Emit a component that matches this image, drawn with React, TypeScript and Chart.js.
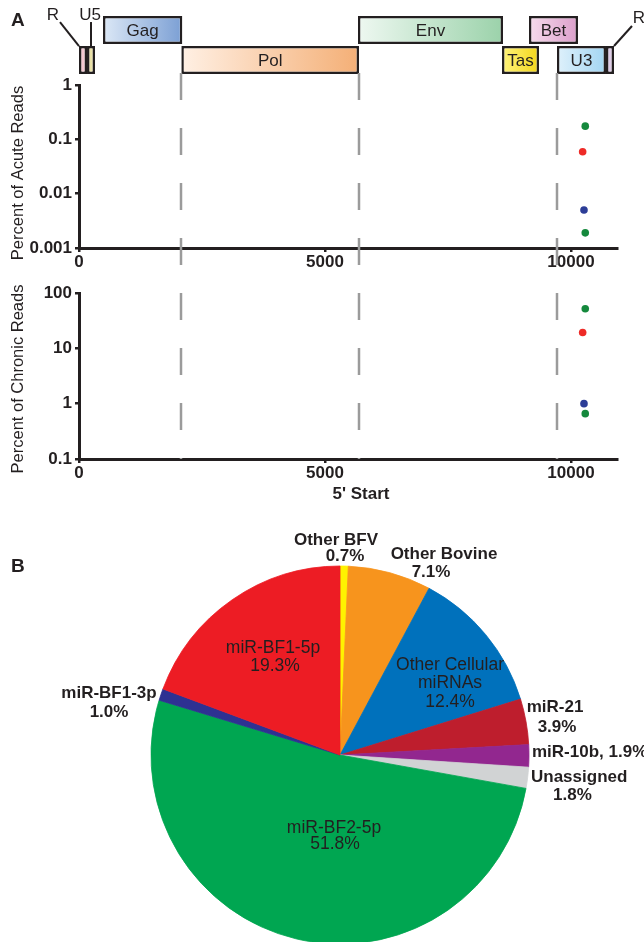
import React, { useEffect, useRef } from 'react';
import { Chart, registerables } from 'chart.js';

Chart.register(...registerables);

const FONT = '"Liberation Sans", Arial, Helvetica, sans-serif';
const INK = '#231f20';

// ---------- Panel A: genome map (positions in nt) ----------
const genomeNames = ['R', 'U5', 'Gag', 'Pol', 'Env', 'Tas', 'Bet', 'U3', 'R'];
const genomeStart = [0, 163, 488, 2080, 5670, 8598, 9146, 9715, 10711];
const genomeEnd = [163, 325, 2100, 5691, 8618, 9350, 10142, 10711, 10874];
const genomeRow = ['lower', 'lower', 'upper', 'lower', 'upper', 'lower', 'upper', 'lower', 'lower'];
const genomeRows = ['upper', 'lower'];
const genomeFillFrom = ['#f4c4cc', '#e4dc9c', '#dce8f6', '#fff0e4', '#eef8f1', '#fff37c', '#f6dcec', '#dff1fb', '#d4c4e6'];
const genomeFillTo = ['#f2ccd6', '#efe7b4', '#7b9fd4', '#f4af76', '#9bd2aa', '#f3d61a', '#dc9ecb', '#a2d5f2', '#e8d4ea'];

// Genome length shown on the x axis
const X_MIN = 0;
const X_MAX = 10935;
const xTicks = [0, 5000, 10000];

// ---------- Panel A: small RNA 5' start positions ----------
const seriesNames = ['miR-BF2-5p', 'miR-BF1-5p', 'miR-BF1-3p', 'miR-BF2-3p'];
const seriesStart = [10290, 10237, 10264, 10290];
const acutePercent = [0.175, 0.059, 0.005, 0.0019];
const chronicPercent = [51.8, 19.3, 1.0, 0.66];
const seriesColors = ['#15893d', '#ee2b27', '#2c3d97', '#15893d'];

const acuteTicks = [0.001, 0.01, 0.1, 1];
const chronicTicks = [0.1, 1, 10, 100];

// ---------- Panel B: pie ----------
const pieLabels = [
  'Other BFV',
  'Other Bovine',
  'Other Cellular miRNAs',
  'miR-21',
  'miR-10b',
  'Unassigned',
  'miR-BF2-5p',
  'miR-BF1-3p',
  'miR-BF1-5p',
];
const pieValues = [0.7, 7.1, 12.4, 3.9, 1.9, 1.8, 51.8, 1.0, 19.3];
const pieColors = ['#fff200', '#f7941d', '#0071bc', '#be1e2d', '#92278f', '#d1d3d4', '#00a651', '#2e3192', '#ed1c24'];

// label layout (offsets from pie centre)
const pieLabelLayout: any[] = [
  { pos: [[-4, -215], [5, -199]], bold: true },
  { pos: [[104, -201], [91, -183]], bold: true },
  { pos: [[110, -90], [110, -72], [110, -53]], bold: false, breakLabel: true },
  { pos: [[215, -48], [217, -28]], bold: true },
  { pos: [[192, -3]], bold: true, inline: true, align: 'left' },
  { pos: [[191, 22], [213, 40]], bold: true, align: 'left' },
  { pos: [[-6, 73], [-5, 89]], bold: false },
  { pos: [[-231, -62], [-231, -43]], bold: true },
  { pos: [[-67, -107], [-65, -89]], bold: false },
];

// ---------- layout ----------
const W = 644;
const PLOT_LEFT = 79;
const PLOT_RIGHT_PAD = 27;
const DASH_ORIGIN = 73;
const DASH = [27, 28];
const boundaries = [genomeStart[3], genomeEnd[3], genomeStart[7]];

function dashOffset(startY: number) {
  const p = DASH[0] + DASH[1];
  return (((startY - DASH_ORIGIN) % p) + p) % p;
}

function genomeConfig(): any {
  const genomePlugin = {
    id: 'genomeText',
    afterDatasetsDraw(chart: any) {
      const { ctx } = chart;
      const meta = chart.getDatasetMeta(0);
      const bars = meta.data;
      ctx.save();
      ctx.fillStyle = INK;
      ctx.font = `17px ${FONT}`;
      ctx.textAlign = 'center';
      ctx.textBaseline = 'middle';
      bars.forEach((bar: any, i: number) => {
        if (i < 2 || i === 8) return;
        ctx.fillText(genomeNames[i], (bar.x + bar.base) / 2, bar.y + 1);
      });
      // callouts
      ctx.strokeStyle = INK;
      ctx.lineWidth = 2;
      const callout = (text: string, ax: number, ay: number, tx: number, ty: number, lx: number, ly: number) => {
        ctx.beginPath();
        ctx.moveTo(ax + lx, ay + ly);
        ctx.lineTo(ax, ay);
        ctx.stroke();
        ctx.fillText(text, ax + tx, ay + ty);
      };
      const b0 = bars[0];
      const b1 = bars[1];
      const b8 = bars[8];
      callout(genomeNames[0], Math.min(b0.x, b0.base), b0.y - b0.height / 2, -26, -31, -19, -24);
      callout(genomeNames[1], (b1.x + b1.base) / 2, b1.y - b1.height / 2, -1, -31, 0, -24);
      callout(genomeNames[8], Math.max(b8.x, b8.base), b8.y - b8.height / 2, 25, -28, 18, -20);
      ctx.restore();
    },
  };
  return {
    type: 'bar',
    data: {
      labels: genomeRows,
      datasets: [
        {
          data: genomeNames.map((_, i) => ({ x: [genomeStart[i], genomeEnd[i]], y: genomeRow[i] })),
          backgroundColor: (c: any) => {
            const i = c.dataIndex;
            const xs = c.chart.scales && c.chart.scales.x;
            if (i === undefined || !xs) return genomeFillTo[0];
            const x0 = xs.getPixelForValue(genomeStart[i]);
            const x1 = xs.getPixelForValue(genomeEnd[i]);
            if (!isFinite(x0) || !isFinite(x1) || x0 === x1) return genomeFillTo[i];
            const g = c.chart.ctx.createLinearGradient(x0, 0, x1, 0);
            g.addColorStop(0, genomeFillFrom[i]);
            g.addColorStop(1, genomeFillTo[i]);
            return g;
          },
          borderColor: INK,
          borderWidth: 2.5,
          borderSkipped: false,
          barPercentage: 0.95,
          categoryPercentage: 0.98,
          grouped: false,
        },
      ],
    },
    options: {
      indexAxis: 'y',
      animation: false,
      responsive: false,
      events: [],
      layout: { padding: { left: PLOT_LEFT, right: PLOT_RIGHT_PAD, top: 15, bottom: 5 } },
      scales: {
        x: { type: 'linear', min: X_MIN, max: X_MAX, display: false },
        y: { type: 'category', display: false },
      },
      plugins: { legend: { display: false }, tooltip: { enabled: false } },
    },
    plugins: [genomePlugin],
  };
}

function scatterConfig(opts: {
  values: number[];
  min: number;
  max: number;
  ticks: number[];
  canvasTop: number;
  topPad: number;
  xAxisHeight: number;
  title: string;
  titleY: number;
  dashToChartBottom: boolean;
  xTitle?: string;
  xTitlePos?: [number, number];
}): any {
  const dashPlugin = {
    id: 'guides',
    beforeDatasetsDraw(chart: any) {
      const { ctx, scales, chartArea } = chart;
      const y0 = Math.max(0, DASH_ORIGIN - opts.canvasTop);
      ctx.save();
      ctx.strokeStyle = '#9b9b9b';
      ctx.lineWidth = 2.5;
      ctx.setLineDash(DASH);
      ctx.lineDashOffset = dashOffset(opts.canvasTop + y0);
      const yEnd = opts.dashToChartBottom ? chartArea.bottom : chart.height;
      boundaries.forEach((v) => {
        const px = Math.round(scales.x.getPixelForValue(v));
        ctx.beginPath();
        ctx.moveTo(px, y0);
        ctx.lineTo(px, yEnd);
        ctx.stroke();
      });
      ctx.restore();
    },
    afterDraw(chart: any) {
      const { ctx } = chart;
      ctx.save();
      ctx.fillStyle = INK;
      ctx.textAlign = 'center';
      ctx.textBaseline = 'middle';
      ctx.font = `16.5px ${FONT}`;
      ctx.translate(18.5, opts.titleY);
      ctx.rotate(-Math.PI / 2);
      ctx.fillText(opts.title, 0, 0);
      ctx.restore();
      if (opts.xTitle && opts.xTitlePos) {
        ctx.save();
        ctx.fillStyle = INK;
        ctx.textAlign = 'center';
        ctx.textBaseline = 'middle';
        ctx.font = `bold 17px ${FONT}`;
        ctx.fillText(opts.xTitle, opts.xTitlePos[0], opts.xTitlePos[1]);
        ctx.restore();
      }
    },
  };
  return {
    type: 'scatter',
    data: {
      datasets: seriesNames.map((name, i) => ({
        label: name,
        data: [{ x: seriesStart[i], y: opts.values[i] }],
        backgroundColor: seriesColors[i],
        borderWidth: 0,
        pointRadius: 3.8,
      })),
    },
    options: {
      animation: false,
      responsive: false,
      events: [],
      layout: { padding: { left: 0, right: PLOT_RIGHT_PAD, top: opts.topPad, bottom: 0 } },
      scales: {
        x: {
          type: 'linear',
          min: X_MIN,
          max: X_MAX,
          afterBuildTicks: (s: any) => {
            s.ticks = xTicks.map((v) => ({ value: v }));
          },
          afterFit: (s: any) => {
            s.height = opts.xAxisHeight;
            s.paddingLeft = 0;
            s.paddingRight = 0;
          },
          ticks: {
            font: { family: FONT, size: 17, weight: 'bold' },
            color: INK,
            padding: 0,
            maxRotation: 0,
            autoSkip: false,
            callback: (v: any) => String(v),
          },
          grid: { drawOnChartArea: false, drawTicks: true, tickLength: 4, lineWidth: 2.5, color: INK },
          border: { display: true, width: 3, color: INK },
        },
        y: {
          type: 'logarithmic',
          min: opts.min,
          max: opts.max,
          afterBuildTicks: (s: any) => {
            s.ticks = opts.ticks.map((v) => ({ value: v }));
          },
          afterFit: (s: any) => {
            s.width = PLOT_LEFT;
            s.paddingTop = 0;
            s.paddingBottom = 0;
          },
          ticks: {
            font: { family: FONT, size: 17, weight: 'bold' },
            color: INK,
            padding: 3,
            autoSkip: false,
            callback: (v: any) => String(v),
          },
          grid: { drawOnChartArea: false, drawTicks: true, tickLength: 4, lineWidth: 2.5, color: INK },
          border: { display: true, width: 3, color: INK },
        },
      },
      plugins: { legend: { display: false }, tooltip: { enabled: false } },
    },
    plugins: [dashPlugin],
  };
}

function pieConfig(): any {
  const labelPlugin = {
    id: 'pieText',
    afterDatasetsDraw(chart: any) {
      const { ctx } = chart;
      const arcs = chart.getDatasetMeta(0).data;
      if (!arcs.length) return;
      const cx = arcs[0].x;
      const cy = arcs[0].y;
      ctx.save();
      ctx.fillStyle = INK;
      ctx.textBaseline = 'middle';
      pieLabels.forEach((label, i) => {
        const lay = pieLabelLayout[i];
        const pct = `${pieValues[i].toFixed(1)}%`;
        let lines: string[];
        if (lay.inline) lines = [`${label}, ${pct}`];
        else if (lay.breakLabel) {
          const k = label.lastIndexOf(' ');
          lines = [label.slice(0, k), label.slice(k + 1), pct];
        } else lines = [label, pct];
        ctx.font = lay.bold ? `bold 17px ${FONT}` : `17.5px ${FONT}`;
        ctx.textAlign = lay.align || 'center';
        lines.forEach((t, j) => {
          ctx.fillText(t, cx + lay.pos[j][0], cy + lay.pos[j][1]);
        });
      });
      ctx.restore();
    },
  };
  return {
    type: 'pie',
    data: {
      labels: pieLabels,
      datasets: [
        {
          data: pieValues,
          backgroundColor: pieColors,
          borderColor: pieColors,
          borderWidth: 0.8,
          hoverOffset: 0,
        },
      ],
    },
    options: {
      animation: false,
      responsive: false,
      events: [],
      radius: 189,
      layout: { padding: { top: 70, bottom: 2, left: 151, right: 115 } },
      plugins: { legend: { display: false }, tooltip: { enabled: false } },
    },
    plugins: [labelPlugin],
  };
}

export default function App() {
  const gRef = useRef<HTMLCanvasElement>(null);
  const aRef = useRef<HTMLCanvasElement>(null);
  const cRef = useRef<HTMLCanvasElement>(null);
  const pRef = useRef<HTMLCanvasElement>(null);

  useEffect(() => {
    const charts = [
      new Chart(gRef.current as HTMLCanvasElement, genomeConfig()),
      new Chart(
        aRef.current as HTMLCanvasElement,
        scatterConfig({
          values: acutePercent,
          min: 0.001,
          max: 1,
          ticks: acuteTicks,
          canvasTop: 66,
          topPad: 19,
          xAxisHeight: 32,
          title: 'Percent of Acute Reads',
          titleY: 107,
          dashToChartBottom: false,
        })
      ),
      new Chart(
        cRef.current as HTMLCanvasElement,
        scatterConfig({
          values: chronicPercent,
          min: 0.1,
          max: 100,
          ticks: chronicTicks,
          canvasTop: 280,
          topPad: 13,
          xAxisHeight: 41,
          title: 'Percent of Chronic Reads',
          titleY: 99,
          dashToChartBottom: true,
          xTitle: "5' Start",
          xTitlePos: [361, 214],
        })
      ),
      new Chart(pRef.current as HTMLCanvasElement, pieConfig()),
    ];
    return () => charts.forEach((c) => c.destroy());
  }, []);

  const cv = (top: number): React.CSSProperties => ({ position: 'absolute', left: 0, top, display: 'block' });
  const letter = (top: number): React.CSSProperties => ({
    position: 'absolute',
    left: 11,
    top,
    font: `bold 19px ${FONT}`,
    lineHeight: '19px',
    color: INK,
  });

  return (
    <div style={{ position: 'absolute', left: 0, top: 0, width: W, height: 942, overflow: 'hidden', background: '#fff' }}>
      <canvas ref={gRef} width={W} height={80} style={cv(0)} />
      <canvas ref={aRef} width={W} height={214} style={cv(66)} />
      <canvas ref={cRef} width={W} height={220} style={cv(280)} />
      <canvas ref={pRef} width={W} height={442} style={cv(500)} />
      <div style={letter(10)}>A</div>
      <div style={letter(556)}>B</div>
    </div>
  );
}
